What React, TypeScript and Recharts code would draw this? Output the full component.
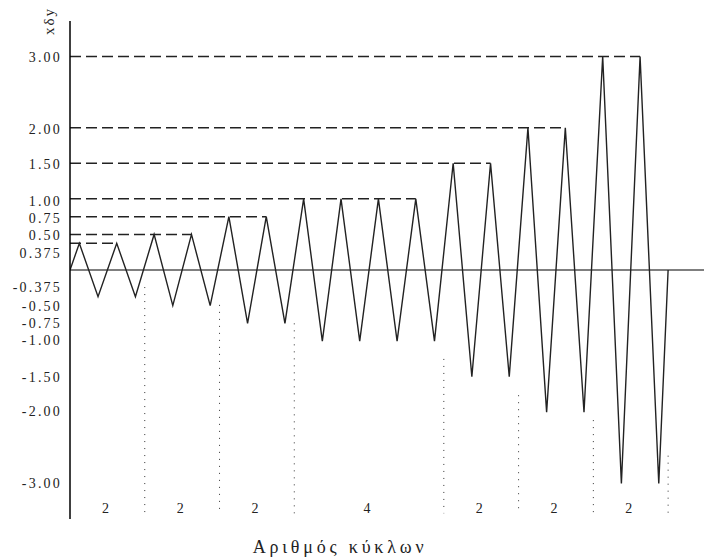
import React from 'react';
import { LineChart, Line, XAxis, YAxis, ReferenceLine, ReferenceDot } from 'recharts';

// loading protocol: cycles per amplitude group
const groupCycles = [2, 2, 2, 4, 2, 2, 2];
const groupAmplitude = [0.375, 0.5, 0.75, 1.0, 1.5, 2.0, 3.0];
// where the dotted group dividers start (they all end near the bottom)
const dividerTop = [-0.24, -0.49, -0.75, -1.25, -1.76, -2.11, -2.61];
const dividerBottom = -3.42;
const groupLabelY = -3.35;

const yTicks = [3, 2, 1.5, 1, 0.75, 0.5, 0.375, -0.375, -0.5, -0.75, -1, -1.5, -2, -3];
const yTickLabels = ['3.00', '2.00', '1.50', '1.00', '0.75', '0.50', '0.375', '-0.375', '-0.50', '-0.75', '-1.00', '-1.50', '-2.00', '-3.00'];
const yTickNudge = [0, 1, 1, 2, 1, 1, 10, -10, 0, 0, -1, 0, -1, 0];

const xTitle = 'Αριθμός κύκλων';
const yTitle = 'xδy';

// build the saw-tooth from the amplitudes
const points: { t: number; v: number }[] = [{ t: 0, v: 0 }];
const peakEnds: number[] = [];
const groupStarts: number[] = [];
let c = 0;
groupCycles.forEach((n, g) => {
  groupStarts.push(c);
  for (let k = 0; k < n; k++) {
    points.push({ t: c + 0.25, v: groupAmplitude[g] });
    points.push({ t: c + 0.75, v: -groupAmplitude[g] });
    c += 1;
  }
  peakEnds.push(c - 0.75);
});
points.push({ t: c, v: 0 });

const font = '"Liberation Serif", "DejaVu Serif", serif';

const YTick = (props: any) => {
  const { x, y, payload } = props;
  const i = yTicks.indexOf(payload.value);
  return (
    <text x={x} y={y + (yTickNudge[i] || 0)} dy={5} textAnchor="end" fontSize={14}
      fontFamily={font} letterSpacing={2.2} fill="#222">
      {yTickLabels[i]}
    </text>
  );
};

export default function App() {
  return (
    <div style={{ position: 'absolute', left: 0, top: 0, width: 704, height: 559, background: '#fff' }}>
      <LineChart width={704} height={559} data={points} margin={{ top: 21, right: 0, bottom: 40, left: 0 }}>
        <XAxis dataKey="t" type="number" domain={[0, 16.96]} allowDataOverflow hide />
        <YAxis type="number" domain={[-3.5, 3.5]} allowDataOverflow ticks={yTicks} interval={0}
          width={70} tickLine={false} tickSize={0} tickMargin={8}
          axisLine={{ stroke: '#000', strokeWidth: 1.5 }} tick={<YTick />} />
        <ReferenceLine y={0} stroke="#000" strokeWidth={1.2} />
        {groupAmplitude.map((a, g) => (
          <ReferenceLine key={'d' + g} segment={[{ x: 0, y: a }, { x: peakEnds[g], y: a }]}
            stroke="#222" strokeWidth={1.5} strokeDasharray="11 5" />
        ))}
        {groupCycles.map((n, g) => (
          <ReferenceLine key={'v' + g} segment={[{ x: groupStarts[g] + n, y: dividerTop[g] }, { x: groupStarts[g] + n, y: dividerBottom }]}
            stroke="#333" strokeWidth={1} strokeDasharray="1 6" />
        ))}
        {groupCycles.map((n, g) => (
          <ReferenceDot key={'l' + g} x={groupStarts[g] + n / 2} y={groupLabelY} r={0} fill="none" stroke="none"
            label={{ value: String(n), position: 'center', dx: -2, fontSize: 14, fontFamily: font, fill: '#222' }} />
        ))}
        <Line type="linear" dataKey="v" stroke="#222" strokeWidth={1.4} dot={false} isAnimationActive={false} />
      </LineChart>
      <div style={{ position: 'absolute', left: 49, top: 21, transform: 'translate(-50%, -50%) rotate(-90deg)',
        fontFamily: font, fontSize: 15, letterSpacing: 2, whiteSpace: 'nowrap', color: '#222' }}>
        {yTitle}
      </div>
      <div style={{ position: 'absolute', left: 340, top: 547, transform: 'translate(-50%, -50%)',
        fontFamily: font, fontSize: 18, letterSpacing: 3.8, whiteSpace: 'nowrap', color: '#222' }}>
        {xTitle}
      </div>
    </div>
  );
}
